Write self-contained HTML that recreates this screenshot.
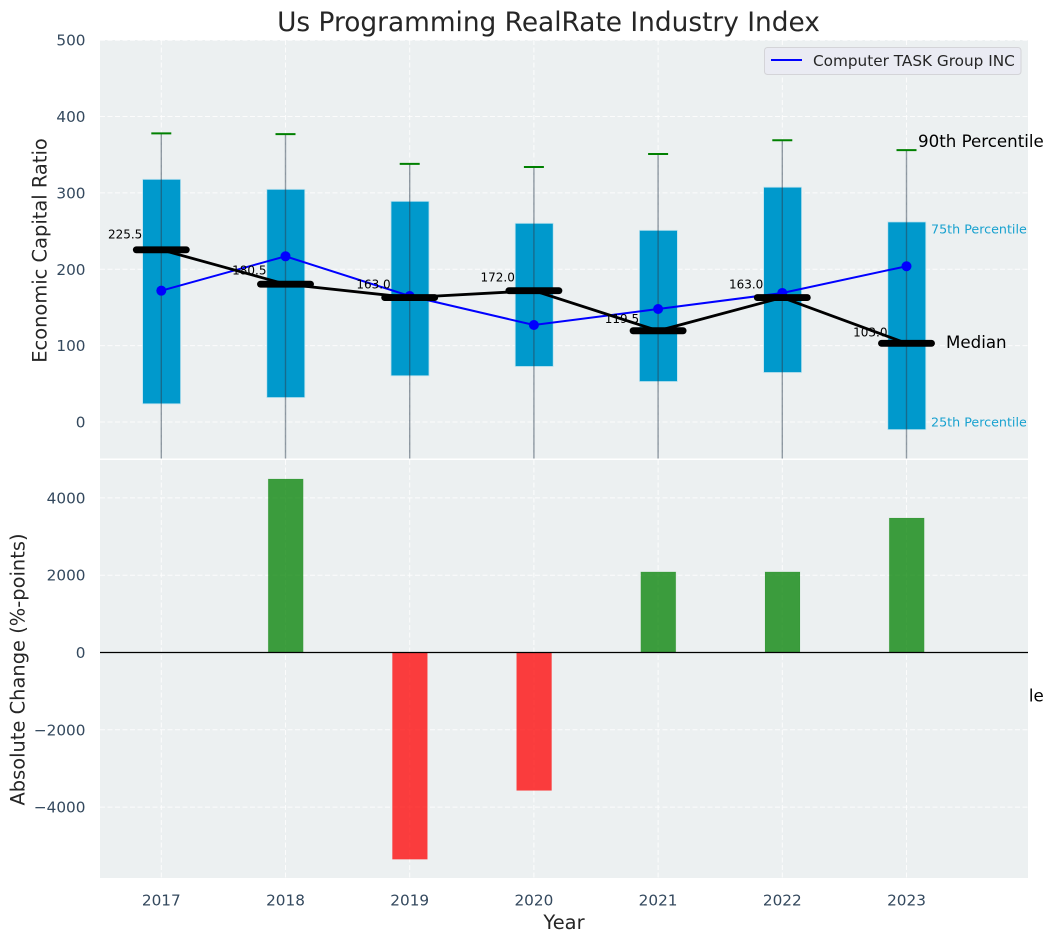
<!DOCTYPE html>
<html lang="en">
<head>
<meta charset="utf-8">
<title>Us Programming RealRate Industry Index</title>
<style>
html,body{margin:0;padding:0;background:#fff;}
svg{display:block;font-family:"DejaVu Sans","Liberation Sans",sans-serif;}
</style>
</head>
<body>
<svg id="chart" xmlns="http://www.w3.org/2000/svg" width="1053" height="942" viewBox="0 0 1053 942">
  <defs>
    <clipPath id="top-clip"><rect x="100" y="40" width="928" height="418.5"/></clipPath>
    <clipPath id="bottom-clip"><rect x="100" y="460" width="928" height="418"/></clipPath>
  </defs>
</svg>
<script>
const years = [2017, 2018, 2019, 2020, 2021, 2022, 2023];
const q75 = [317.8, 304.7, 289, 260.2, 251, 307.5, 262];
const q25 = [23.8, 32, 60.5, 72.7, 53, 64.8, -10];
const whiskerHigh = [378, 377, 338, 334, 351, 369, 356];
const whiskerLow = [-60, -60, -60, -60, -60, -60, -60];
const medians = [225.5, 180.5, 163.0, 172.0, 119.5, 163.0, 103.0];
const companyValues = [172, 217, 165, 127, 148, 169, 204];
const changes = [0, 4490, -5350, -3570, 2085, 2085, 3480];
const topTicks = [0, 100, 200, 300, 400, 500];
const bottomTicks = [-4000, -2000, 0, 2000, 4000];

const NS = 'http://www.w3.org/2000/svg';
const svg = document.getElementById('chart');
const x = v => 161.3 + (v - 2017) * 124.2;
const yTop = v => 422 - v * 0.7636;
const yBottom = v => 652.5 - v * 0.03865;

function make(tag, attrs, parent, text) {
  const el = document.createElementNS(NS, tag);
  for (const k in attrs) el.setAttribute(k, attrs[k]);
  if (text !== undefined) el.textContent = text;
  (parent || svg).appendChild(el);
  return el;
}
function group(clip) {
  const g = make('g', clip ? {'clip-path': 'url(#' + clip + ')'} : {});
  return g;
}
function fmtTick(v) { return v < 0 ? '\u2212' + Math.abs(v) : String(v); }

/* ---------- top panel ---------- */
const topBg = make('rect', {x: 100, y: 40, width: 928, height: 418.5, fill: '#ecf0f1'});



const topGrid = group('top-clip');


years.forEach(yr => {
  make('line', {x1: x(yr), x2: x(yr), y1: 40, y2: 458.5, stroke: '#fff', 'stroke-width': 1, 'stroke-dasharray': '5 2.5', opacity: 0.85}, topGrid);
});
topTicks.forEach(t => {
  make('line', {x1: 100, x2: 1028, y1: yTop(t), y2: yTop(t), stroke: '#fff', 'stroke-width': 1, 'stroke-dasharray': '5 2.5', opacity: 0.85}, topGrid);
});

/* text that sits behind the lower panel, only its tail shows */
const hiddenLabel = make('text', {x: 918, y: 701.5, 'font-size': 16.67, fill: '#000'}, svg, '90th Percentile');



const topMarks = group('top-clip');



years.forEach((yr, i) => {
  const box = make('rect', {
    x: x(yr) - 18.7, y: yTop(q75[i]), width: 38,
    height: yTop(q25[i]) - yTop(q75[i]),
    fill: '#0099cc', stroke: '#bfe3ef', 'stroke-width': 0.8
  }, topMarks);
  
  
});
years.forEach((yr, i) => {
  const w = make('line', {
    x1: x(yr), x2: x(yr), y1: yTop(whiskerHigh[i]), y2: yTop(whiskerLow[i]),
    stroke: '#2c3e50', 'stroke-width': 1.4, opacity: 0.5
  }, topMarks);
  
  
  const cap = make('line', {
    x1: x(yr) - 10, x2: x(yr) + 10, y1: yTop(whiskerHigh[i]), y2: yTop(whiskerHigh[i]),
    stroke: '#008000', 'stroke-width': 2
  }, topMarks);
  
  
});

const companyLine = make('polyline', {
  points: years.map((yr, i) => x(yr) + ',' + yTop(companyValues[i])).join(' '),
  fill: 'none', stroke: '#0000ff', 'stroke-width': 2
}, topMarks);


years.forEach((yr, i) => {
  const p = make('circle', {cx: x(yr), cy: yTop(companyValues[i]), r: 5, fill: '#0000ff'}, topMarks);
  
  
});

years.forEach((yr, i) => {
  const t = make('text', {
    x: x(yr) - 19, y: yTop(medians[i] * 1.047 + 10) + 4.4, 'text-anchor': 'end', 'font-size': 12, fill: '#000'
  }, svg, medians[i].toFixed(1));
  
  
});

const medianTrend = make('polyline', {
  points: years.map((yr, i) => x(yr) + ',' + yTop(medians[i])).join(' '),
  fill: 'none', stroke: '#000', 'stroke-width': 2.8
}, topMarks);


years.forEach((yr, i) => {
  const m = make('line', {
    x1: x(yr) - 25, x2: x(yr) + 25, y1: yTop(medians[i]), y2: yTop(medians[i]),
    stroke: '#000', 'stroke-width': 6.9, 'stroke-linecap': 'round'
  }, topMarks);
  
  
});

/* ---------- annotations ---------- */
const note90 = make('text', {x: 918, y: 147, 'font-size': 16.67, fill: '#000'}, svg, '90th Percentile');


const note75 = make('text', {x: 931, y: 233.5, 'font-size': 12.7, fill: '#0099cc', opacity: 0.9}, svg, '75th Percentile');


const noteMed = make('text', {x: 946, y: 348, 'font-size': 16.67, fill: '#000'}, svg, 'Median');


const note25 = make('text', {x: 931, y: 426.5, 'font-size': 12.7, fill: '#0099cc', opacity: 0.9}, svg, '25th Percentile');



/* ---------- legend ---------- */
const legend = group();


make('rect', {x: 764.5, y: 47.5, width: 256.5, height: 27, rx: 3, fill: '#eaeaf2', 'fill-opacity': 0.95, stroke: '#d4d4d8', 'stroke-width': 1}, legend);
const legendKey = make('line', {x1: 771, x2: 802, y1: 60, y2: 60, stroke: '#0000ff', 'stroke-width': 2}, legend);


const legendText = make('text', {x: 813, y: 66, 'font-size': 15.28, fill: '#262626'}, legend, 'Computer TASK Group INC');



/* ---------- bottom panel ---------- */
const bottomBg = make('rect', {x: 100, y: 460, width: 928, height: 418, fill: '#ecf0f1'});



const bottomGrid = group('bottom-clip');


years.forEach(yr => {
  make('line', {x1: x(yr), x2: x(yr), y1: 460, y2: 878, stroke: '#fff', 'stroke-width': 1, 'stroke-dasharray': '5 2.5', opacity: 0.85}, bottomGrid);
});
bottomTicks.forEach(t => {
  make('line', {x1: 100, x2: 1028, y1: yBottom(t), y2: yBottom(t), stroke: '#fff', 'stroke-width': 1, 'stroke-dasharray': '5 2.5', opacity: 0.85}, bottomGrid);
});

const bottomMarks = group('bottom-clip');


years.forEach((yr, i) => {
  if (changes[i] === 0) return;
  const y0 = yBottom(0), y1 = yBottom(changes[i]);
  const color = changes[i] > 0 ? '#008000' : '#ff0000';
  const bar = make('rect', {
    x: x(yr) - 17.3, y: Math.min(y0, y1), width: 35, height: Math.abs(y1 - y0),
    fill: color, 'fill-opacity': 0.75, stroke: color, 'stroke-opacity': 0.1, 'stroke-width': 0.8
  }, bottomMarks);
  
  
});
const zeroLine = make('line', {x1: 100, x2: 1028, y1: yBottom(0), y2: yBottom(0), stroke: '#000', 'stroke-width': 1.3}, svg);



/* ---------- ticks ---------- */
topTicks.forEach(t => {
  const l = make('text', {x: 85.5, y: yTop(t) + 5.5, 'text-anchor': 'end', 'font-size': 15.28, fill: '#34495e'}, svg, fmtTick(t));
  
  
});
bottomTicks.forEach(t => {
  const l = make('text', {x: 85.5, y: yBottom(t) + 5.5, 'text-anchor': 'end', 'font-size': 15.28, fill: '#34495e'}, svg, fmtTick(t));
  
  
});
years.forEach(yr => {
  const l = make('text', {x: x(yr), y: 905.5, 'text-anchor': 'middle', 'font-size': 15.28, fill: '#34495e'}, svg, String(yr));
  
  
});

/* ---------- titles ---------- */
const title = make('text', {x: 548.5, y: 31, 'text-anchor': 'middle', 'font-size': 26.39, fill: '#262626'}, svg, 'Us Programming RealRate Industry Index');


const xTitle = make('text', {x: 564, y: 929, 'text-anchor': 'middle', 'font-size': 19.44, fill: '#262626'}, svg, 'Year');


const yTitleTop = make('text', {transform: 'translate(46.5,250.5) rotate(-90)', 'text-anchor': 'middle', 'font-size': 19.44, fill: '#262626'}, svg, 'Economic Capital Ratio');


const yTitleBottom = make('text', {transform: 'translate(24.5,669.5) rotate(-90)', 'text-anchor': 'middle', 'font-size': 19.44, fill: '#262626'}, svg, 'Absolute Change (%-points)');


</script>
</body>
</html>
